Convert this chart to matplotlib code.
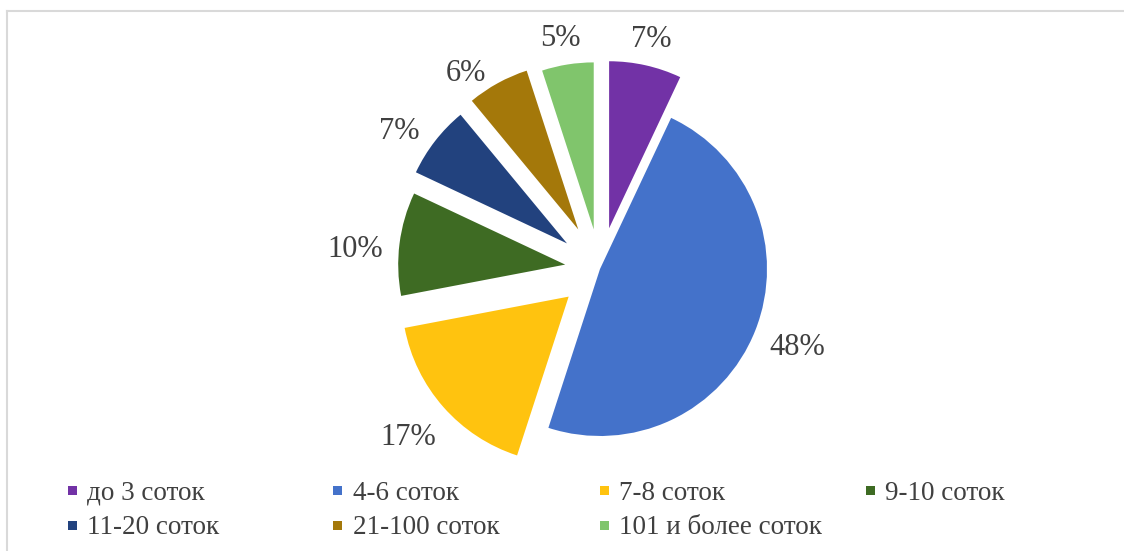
import numpy as np
import matplotlib
matplotlib.use("Agg")
import matplotlib.pyplot as plt
from matplotlib.patches import Rectangle
from matplotlib.lines import Line2D

# land plot sizes (share of plots, %)
categories = ['до 3 соток', '4-6 соток', '7-8 соток', '9-10 соток',
              '11-20 соток', '21-100 соток', '101 и более соток']
shares = [7, 48, 17, 10, 7, 6, 5]

colors = ['#7232A6', '#4472CA', '#FFC30F', '#3E6B23',
          '#22427E', '#A4780A', '#80C56C']
explode = [0.25, 0.0, 0.25, 0.21, 0.25, 0.27, 0.24]
# distance of each percentage label from its (exploded) slice tip, in radii
label_dist = [1.16, 1.27, 1.28, 1.26, 1.21, 1.15, 1.16]
label_turn = [0, 0, 0, 3, 4, 7, 1]  # small angular nudges, degrees

W, H = 1124, 551
fig = plt.figure(figsize=(W / 100, H / 100), dpi=100)
plt.rcParams['font.family'] = ['Liberation Serif', 'DejaVu Serif']
text_color = '#404040'

# pie centre and radius in pixels
cx, cy, rad = 600, 269, 167

ax = fig.add_axes([0, 0, 1, 1])
wedges, texts, autotexts = ax.pie(
    shares, colors=colors, explode=explode,
    startangle=90, counterclock=False, radius=1,
    autopct='%.0f%%', pctdistance=1.2,
    wedgeprops=dict(linewidth=0),
    textprops=dict(fontsize=22, color=text_color))

for w, t, e, d, turn in zip(wedges, autotexts, explode, label_dist, label_turn):
    th = np.deg2rad((w.theta1 + w.theta2) / 2)
    tx = e * np.cos(th) + d * np.cos(th + np.deg2rad(turn))
    ty = e * np.sin(th) + d * np.sin(th + np.deg2rad(turn))
    t.set_position((tx, ty))
    t.set_ha('center')
    t.set_va('center')

ax.set_xlim(-cx / rad, (W - cx) / rad)
ax.set_ylim(-(H - cy) / rad, cy / rad)
ax.set_aspect('auto')
ax.axis('off')

# legend: 4 columns, 2 rows
col_x = [72, 338, 604, 870]
row_y = [493, 528]
for i, (label, col) in enumerate(zip(categories, colors)):
    x = col_x[i % 4]
    y = row_y[i // 4]
    sq = 9
    fig.patches.append(Rectangle(((x - sq / 2) / W, 1 - (y - 3 + sq / 2) / H),
                                 sq / W, sq / H, transform=fig.transFigure,
                                 facecolor=col, edgecolor='none'))
    fig.text((x + 15) / W, 1 - y / H, label, fontsize=19.5,
             color=text_color, ha='left', va='center')

# chart area border (top and left)
border = '#D9D9D9'
fig.add_artist(Line2D([7 / W, 1], [1 - 10.5 / H, 1 - 10.5 / H],
                      transform=fig.transFigure, color=border, lw=1.5))
fig.add_artist(Line2D([7 / W, 7 / W], [0, 1 - 10.5 / H],
                      transform=fig.transFigure, color=border, lw=1.5))

fig.savefig('out.png', dpi=100, facecolor='white')
